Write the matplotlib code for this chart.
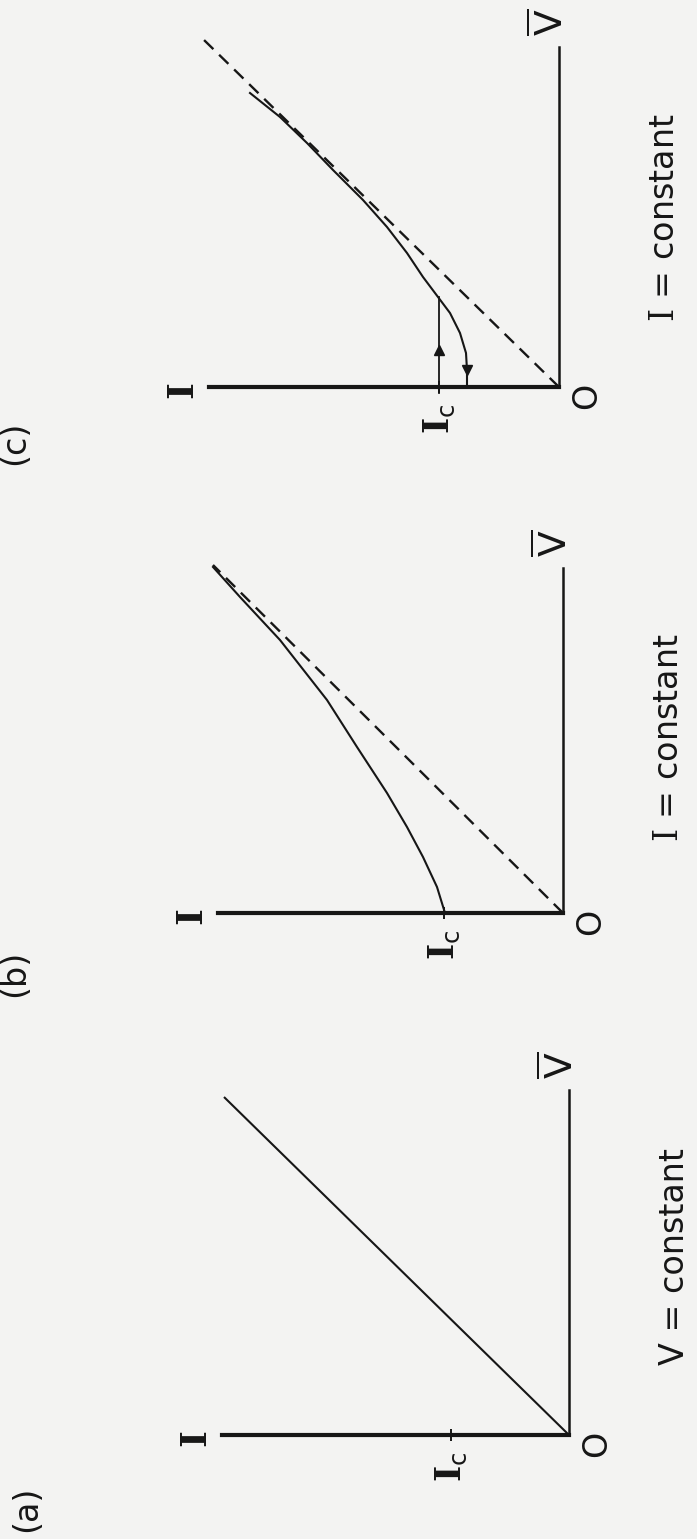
import matplotlib
matplotlib.use('Agg')
import matplotlib.pyplot as plt

# values (arbitrary units, roughly pixels)
# panel (a): V = constant, ohmic line
a_len_I = 347
a_len_V = 345
a_Ic = 118
a_line_I = [0, 345]
a_line_V = [0, 338]

# panel (b): I = constant, non-hysteretic
b_len_I = 345
b_len_V = 345
b_Ic = 119
b_dash_I = [0, 350]
b_dash_V = [0, 348]
b_curve_I = [118, 126, 140, 156, 176, 206, 236, 283, 323, 350]
b_curve_V = [0, 26, 56, 86, 120, 166, 213, 273, 316, 346]

# panel (c): I = constant, hysteretic
c_len_I = 350
c_len_V = 340
c_Ic = 120
c_dash_I = [0, 355]
c_dash_V = [0, 347]
c_curve_I = [92, 92, 93, 99, 109, 121, 136, 152, 172, 196, 226, 252, 279, 309]
c_curve_V = [0, 17, 34, 54, 74, 90, 110, 134, 160, 187, 217, 244, 270, 294]
c_jump_I = [120, 120]
c_jump_V = [-6, 90]
c_arrow_up_V = 37
c_arrow_down_V = 17

captions = ['V = constant', r'$\mathrm{I}$ = constant', r'$\mathrm{I}$ = constant']
caption_V = [178, 175, 169]
letters = ['(a)', '(b)', '(c)']

plt.rcParams['mathtext.fontset'] = 'custom'
plt.rcParams['mathtext.rm'] = 'DejaVu Serif'
plt.rcParams['mathtext.bf'] = 'DejaVu Serif:bold'
plt.rcParams['mathtext.sf'] = 'DejaVu Sans'
plt.rcParams['font.family'] = 'DejaVu Sans'

ink = '#161616'
bg = '#f3f3f2'
W, H = 697, 1539

fig = plt.figure(figsize=(W / 100, H / 100), dpi=100, facecolor=bg)


def panel(ox, oy, len_I, len_V, Ic, caption, cap_V):
  # one data unit = one pixel; I grows to the left, V grows upward
  lo_I, hi_I = -60, 400
  lo_V, hi_V = -80, 420
  ax = fig.add_axes([(ox - hi_I) / W, (H - (oy - lo_V)) / H,
                     (hi_I - lo_I) / W, (hi_V - lo_V) / H])
  ax.set_xlim(hi_I, lo_I)
  ax.set_ylim(lo_V, hi_V)
  ax.patch.set_visible(False)
  ax.spines['top'].set_visible(False)
  ax.spines['left'].set_visible(False)
  ax.spines['bottom'].set_position(('data', 0))
  ax.spines['bottom'].set_bounds(0, len_I)
  ax.spines['bottom'].set_linewidth(3.0)
  ax.spines['bottom'].set_color(ink)
  ax.spines['right'].set_position(('data', 0))
  ax.spines['right'].set_bounds(0, len_V)
  ax.spines['right'].set_linewidth(1.8)
  ax.spines['right'].set_color(ink)
  ax.set_yticks([])
  ax.set_xticks([Ic])
  ax.set_xticklabels([''])
  ax.tick_params(axis='x', direction='inout', length=9, width=1.4, color=ink)
  ax.text(len_I + 25, -4, r'$\mathbf{I}$', fontsize=26, color=ink,
          rotation=90, ha='center', va='center')
  ax.text(Ic, -32, r'$\mathbf{I}_{\mathsf{c}}$', fontsize=25, color=ink,
          rotation=90, ha='center', va='center')
  ax.text(-28, -9, 'O', fontsize=24, color=ink,
          rotation=90, ha='center', va='center')
  ax.text(8, len_V + 25, r'$\overline{\mathsf{V}}$', fontsize=27, color=ink,
          rotation=90, ha='center', va='center')
  ax.text(-106, cap_V, caption, fontsize=24, color=ink,
          rotation=90, ha='center', va='center')
  return ax


dash = (0, (5.5, 3.4))

ax = panel(569, 1435, a_len_I, a_len_V, a_Ic, captions[0], caption_V[0])
ax.plot(a_line_I, a_line_V, color=ink, lw=1.5, solid_capstyle='butt')

ax = panel(563, 913, b_len_I, b_len_V, b_Ic, captions[1], caption_V[1])
ax.plot(b_dash_I, b_dash_V, color=ink, lw=1.7, ls=dash)
ax.plot(b_curve_I, b_curve_V, color=ink, lw=1.5)

ax = panel(559, 387, c_len_I, c_len_V, c_Ic, captions[2], caption_V[2])
ax.plot(c_dash_I, c_dash_V, color=ink, lw=1.7, ls=dash)
ax.plot(c_curve_I, c_curve_V, color=ink, lw=1.5)
ax.plot(c_jump_I, c_jump_V, color=ink, lw=1.3)
# direction arrows
ax.plot([c_jump_I[0]], [c_arrow_up_V], marker='^', ms=7, color=ink, mec=ink)
ax.plot([c_curve_I[0]], [c_arrow_down_V], marker='v', ms=7, color=ink, mec=ink)

fig.text(27 / W, 1 - 1509 / H, letters[0], fontsize=24, color=ink,
         rotation=90, ha='center', va='center')
fig.text(15 / W, 1 - 973 / H, letters[1], fontsize=24, color=ink,
         rotation=90, ha='center', va='center')
fig.text(15 / W, 1 - 443 / H, letters[2], fontsize=24, color=ink,
         rotation=90, ha='center', va='center')

fig.savefig('out.png', dpi=100, facecolor=bg)
